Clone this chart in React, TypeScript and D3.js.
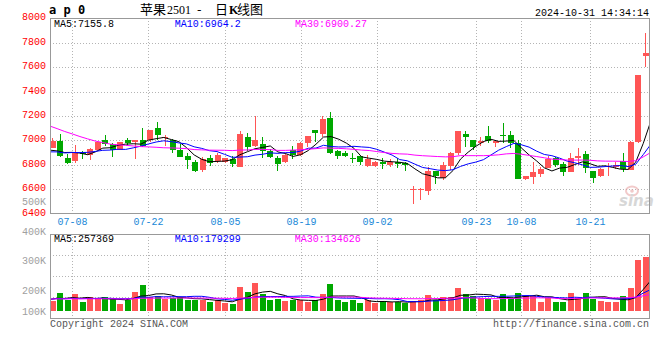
import React from "react";
import * as d3 from "d3";

// ---------- data ----------
const tickDates = ["07-08", "07-22", "08-05", "08-19", "09-02", "09-23", "10-08", "10-21"];
const tickIndex = [3, 13, 23, 33, 43, 56, 62, 71];
const priceTicks = [8000, 7800, 7600, 7400, 7200, 7000, 6800, 6600, 6400];
const volTickLabels = ["500K", "400K", "300K", "200K", "100K"];
const volTickValues = [500000, 400000, 300000, 200000, 100000];

const opens = [
  6940, 6995, 6857, 6832, 6906, 6880, 6924, 7000, 6968, 6922,
  7003, 6988, 7003, 7004, 7100, 7020, 7000, 6925, 6872, 6825,
  6760, 6858, 6831, 6826, 6845, 6785, 7025, 6952, 6970, 6913,
  6860, 6823, 6921, 6883, 6976, 7085, 7050, 7184, 6916, 6900,
  6858, 6872, 6791, 6791, 6826, 6799, 6826, 6818, 6597, 6600,
  6589, 6750, 6695, 6790, 6900, 7052, 7003, 6982, 7036, 6982,
  7046, 7045, 6976, 6684, 6703, 6725, 6777, 6853, 6804, 6744,
  6858, 6889, 6750, 6711, 6785, 6785, 6831, 6758, 6990, 7695,
];
const highs = [
  7018, 7053, 6885, 6962, 6915, 6935, 6997, 7045, 6980, 6990,
  7020, 7005, 7102, 7088, 7153, 7045, 7010, 6972, 6895, 6838,
  6865, 6878, 6894, 6858, 6875, 7077, 7058, 7200, 7025, 6927,
  6872, 6894, 6954, 6984, 7038, 7088, 7200, 7233, 6918, 6911,
  6900, 6875, 6881, 6828, 6858, 6845, 6853, 6820, 6624, 6612,
  6786, 6752, 6826, 6902, 7080, 7078, 7005, 7025, 7118, 6998,
  7140, 7080, 7000, 6712, 6826, 6780, 6872, 6867, 6826, 6900,
  6935, 6916, 6752, 6771, 6812, 6826, 6900, 6998, 7536, 7882,
];
const lows = [
  6938, 6867, 6808, 6815, 6850, 6840, 6920, 6955, 6868, 6920,
  6960, 6850, 6950, 6990, 7000, 6957, 6900, 6865, 6768, 6742,
  6743, 6790, 6812, 6812, 6786, 6780, 6915, 6950, 6855, 6853,
  6752, 6812, 6848, 6875, 6950, 6990, 7031, 6889, 6848, 6861,
  6818, 6800, 6780, 6785, 6764, 6785, 6772, 6752, 6477, 6512,
  6553, 6640, 6676, 6758, 6881, 6950, 6922, 6954, 6982, 6949,
  6976, 6935, 6684, 6680, 6643, 6703, 6775, 6780, 6709, 6740,
  6799, 6736, 6649, 6703, 6711, 6763, 6744, 6755, 6976, 7598,
];
const closes = [
  6995, 6875, 6815, 6906, 6890, 6930, 6987, 6972, 6922, 6987,
  6980, 7003, 6955, 7085, 7048, 7030, 6918, 6867, 6842, 6750,
  6850, 6818, 6880, 6856, 6805, 7052, 6944, 7003, 6910, 6865,
  6807, 6878, 6884, 6982, 7036, 7063, 7175, 6900, 6875, 6876,
  6850, 6826, 6845, 6826, 6804, 6826, 6804, 6799, 6603, 6604,
  6750, 6712, 6800, 6900, 7077, 7031, 6950, 6995, 6993, 6993,
  7042, 6976, 6684, 6711, 6744, 6763, 6848, 6800, 6744, 6858,
  6872, 6772, 6695, 6763, 6793, 6799, 6763, 6990, 7536, 7712,
];
const volumes = [
  84000, 149000, 92500, 140000, 73000, 115000, 101000, 115000, 98000, 61000,
  95000, 157000, 216000, 120000, 129000, 101000, 107000, 120000, 95000, 95000,
  95000, 73000, 90000, 67000, 61000, 204000, 157000, 233000, 140000, 92500,
  98000, 84000, 95000, 92500, 78000, 92500, 140000, 225000, 95000, 78000,
  92500, 67000, 90000, 67000, 84000, 73000, 78000, 70000, 84000, 90000,
  135000, 90000, 120000, 120000, 196000, 143000, 129000, 107000, 101000, 90000,
  143000, 112000, 151000, 129000, 129000, 78000, 107000, 78000, 78000, 151000,
  112000, 151000, 101000, 84000, 78000, 78000, 129000, 191000, 431000, 457000,
];
// closes / volumes of the sessions before the window (estimated from where the MA lines start)
const priorCloses = [
  7540, 7520, 7510, 7530, 7500, 7520, 7340, 7320, 7140, 7120,
  7150, 7110, 7160, 7140, 7150, 6960, 6940, 6950, 6970, 6930,
  6880, 6900, 6870, 6890, 6920, 6910, 6880, 6900, 6920,
];
const priorVolumes = [
  105000, 98000, 110000, 95000, 102000, 99000, 108000, 96000, 104000, 100000,
  97000, 106000, 101000, 99000, 103000, 98000, 107000, 95000, 102000, 100000,
  96000, 105000, 99000, 101000, 103000, 97000, 100000, 104000, 98000,
];
const priceLegend = ["MA5:7155.8", "MA10:6964.2", "MA30:6900.27"];
const volLegend = ["MA5:257369", "MA10:179299", "MA30:134626"];
const maPeriods = [5, 10, 30];
const maColors = ["#000000", "#0000ff", "#ff00ff"];

// ---------- layout ----------
const W = 660;
const H = 360;
const FONT = "'Liberation Mono', 'DejaVu Sans Mono', monospace";
const RED = "#ff5555";
const GREEN = "#00a800";
const FRAME = "#999999";
const GRID = "#b4b4b4";

const left = 50;
const right = 649;
const pTop = 18;
const pBot = 213;
const vTop = 234;
const vBot = 318;
const vBase = 311;

function movingAverage(values: number[], prior: number[], p: number) {
  const all = prior.concat(values);
  const off = prior.length;
  return values.map((_, i) => d3.mean(all.slice(i + off - p + 1, i + off + 1)) as number);
}

export default function App() {
  const n = closes.length;
  const candleX = d3.scaleLinear().domain([0, n - 1]).range([52.7, 645.7]);
  const lineX = d3.scaleLinear().domain([0, n - 1]).range([49.5, 650.9]);
  const priceY = d3.scaleLinear().domain([6400, 8000]).range([213.7, 18.3]);
  const volY = d3.scaleLinear().domain([0, 500000]).range([vBase, vBase - 59.5]);
  const volLabelY = d3.scaleLinear().domain([200000, 500000]).range([290.3, 201.7]);

  const priceMA = maPeriods.map((p) => movingAverage(closes, priorCloses, p));
  const volMA = maPeriods.map((p) => movingAverage(volumes, priorVolumes, p));

  const pLine = d3
    .line<number>()
    .x((_, i) => lineX(i))
    .y((d) => priceY(d));
  const vLine = d3
    .line<number>()
    .x((_, i) => lineX(i))
    .y((d) => volY(d));

  const gridXs = tickIndex.map((i) => Math.round(lineX(i)) + 0.5);
  const hGrid = priceTicks.filter((v) => v !== 8000 && v !== 6400);
  const volGridYs = [1, 2, 3].map((k) => vTop + 0.5 + k * 21);

  return (
    <svg
      width={W}
      height={H}
      viewBox={`0 0 ${W} ${H}`}
      style={{ position: "absolute", left: 0, top: 0, background: "#fff" }}
      fontFamily={FONT}
    >
      <defs>
        <clipPath id="pclip">
          <rect x={left} y={pTop} width={right - left + 1} height={pBot - pTop + 1} />
        </clipPath>
        <clipPath id="vclip">
          <rect x={left} y={vTop} width={right - left + 1} height={vBot - vTop + 1} />
        </clipPath>
      </defs>
      <rect x={0} y={0} width={W} height={H} fill="#fff" />

      {/* header */}
      <text x={49} y={14} fontSize={12} fontWeight="bold" fill="#000" fontFamily="'DejaVu Sans Mono', monospace">
        a p 0
      </text>
      <text y={13.5} fontSize={13} fill="#000" fontFamily="'Noto Sans CJK SC', sans-serif">
        <tspan x={140}>苹果</tspan>
        <tspan x={167} fontFamily="'Liberation Serif', serif" fontSize={12}>2501</tspan>
        <tspan x={197}>-</tspan>
        <tspan x={215}>日</tspan>
        <tspan x={229} fontFamily="'Liberation Serif', serif" fontWeight="bold" fontSize={12}>K</tspan>
        <tspan x={237}>线图</tspan>
      </text>
      <text x={649} y={16} fontSize={10} textAnchor="end" fill="#000">
        2024-10-31 14:34:14
      </text>

      {/* price grid */}
      <g shapeRendering="crispEdges" stroke={GRID} strokeDasharray="1,2">
        {hGrid.map((v) => (
          <line key={v} x1={left} x2={right} y1={Math.round(priceY(v)) + 0.5} y2={Math.round(priceY(v)) + 0.5} />
        ))}
        {gridXs.map((x, k) => (
          <line key={k} x1={x} x2={x} y1={pTop} y2={pBot} />
        ))}
        {volGridYs.map((y, k) => (
          <line key={"vy" + k} x1={left} x2={right} y1={y} y2={y} />
        ))}
        {gridXs.map((x, k) => (
          <line key={"vx" + k} x1={x} x2={x} y1={vTop} y2={vBot} />
        ))}
      </g>

      {/* sina watermark */}
      <g opacity={0.55}>
        <ellipse cx={632} cy={191} rx={6} ry={4.5} fill="none" stroke="#e8a0a0" strokeWidth={2} />
        <circle cx={632} cy={191} r={1.8} fill="#e8a0a0" />
        <text x={619} y={206} fontSize={15} fontStyle="italic" fontWeight="bold" fill="#b8b8b8" fontFamily="'DejaVu Sans', sans-serif">
          sina
        </text>
      </g>

      {/* candles */}
      <g shapeRendering="crispEdges">
        {closes.map((c, i) => {
          const o = opens[i];
          const up = c >= o;
          const col = up ? RED : GREEN;
          const cx = candleX(i);
          const wx = Math.floor(cx) + 0.5;
          const yTop = priceY(Math.max(o, c));
          const yBot = priceY(Math.min(o, c));
          return (
            <g key={i}>
              <line x1={wx} x2={wx} y1={priceY(highs[i])} y2={priceY(lows[i])} stroke={col} strokeWidth={1} />
              <rect x={cx - 3} y={yTop} width={6} height={Math.max(1, yBot - yTop)} fill={col} />
            </g>
          );
        })}
      </g>

      {/* price MAs */}
      <g clipPath="url(#pclip)" fill="none">
        {priceMA.map((s, k) => (
          <path key={k} d={pLine(s) as string} stroke={maColors[k]} strokeWidth={1} />
        ))}
      </g>

      {/* volume bars */}
      <g shapeRendering="crispEdges">
        {volumes.map((v, i) => {
          const up = closes[i] >= opens[i];
          return (
            <rect
              key={i}
              x={candleX(i) - 3}
              y={volY(v)}
              width={6}
              height={vBase - volY(v)}
              fill={up ? RED : GREEN}
            />
          );
        })}
      </g>
      <g clipPath="url(#vclip)" fill="none">
        {volMA.map((s, k) => (
          <path key={k} d={vLine(s) as string} stroke={maColors[k]} strokeWidth={1} />
        ))}
      </g>

      {/* frames */}
      <g shapeRendering="crispEdges" fill="none" stroke={FRAME} strokeWidth={1}>
        <rect x={left + 0.5} y={pTop + 0.5} width={right - left} height={pBot - pTop} />
        <rect x={left + 0.5} y={vTop + 0.5} width={right - left} height={vBot - vTop} />
      </g>

      {/* legends */}
      <g fontSize={10}>
        {priceLegend.map((t, k) => (
          <text key={k} x={[54, 174.7, 295][k]} y={27.3} fill={maColors[k]}>
            {t}
          </text>
        ))}
        {volLegend.map((t, k) => (
          <text key={"v" + k} x={[54, 174.7, 294.7][k]} y={242} fill={maColors[k]}>
            {t}
          </text>
        ))}
      </g>

      {/* price axis labels */}
      <g fontSize={10} fill="#ff0000" textAnchor="end">
        {priceTicks.map((v) => (
          <text key={v} x={46} y={priceY(v) + 2}>
            {v}
          </text>
        ))}
      </g>
      {/* volume axis labels */}
      <g fontSize={10} fill="#a0a0a0" textAnchor="end">
        {volTickValues.map((v, k) => (
          <text key={v} x={46} y={Math.min(volLabelY(v), vBase) + 3.6}>
            {volTickLabels[k]}
          </text>
        ))}
      </g>
      {/* date labels */}
      <g fontSize={10} fill="#1a88d8" textAnchor="middle">
        {tickDates.map((t, k) => (
          <text key={t} x={gridXs[k]} y={225}>
            {t}
          </text>
        ))}
      </g>

      {/* footer */}
      <text x={50} y={326.7} fontSize={10} fill="#555">
        Copyright 2024 SINA.COM
      </text>
      <text x={649} y={326.7} fontSize={10} fill="#555" textAnchor="end">
        http://finance.sina.com.cn
      </text>
    </svg>
  );
}
